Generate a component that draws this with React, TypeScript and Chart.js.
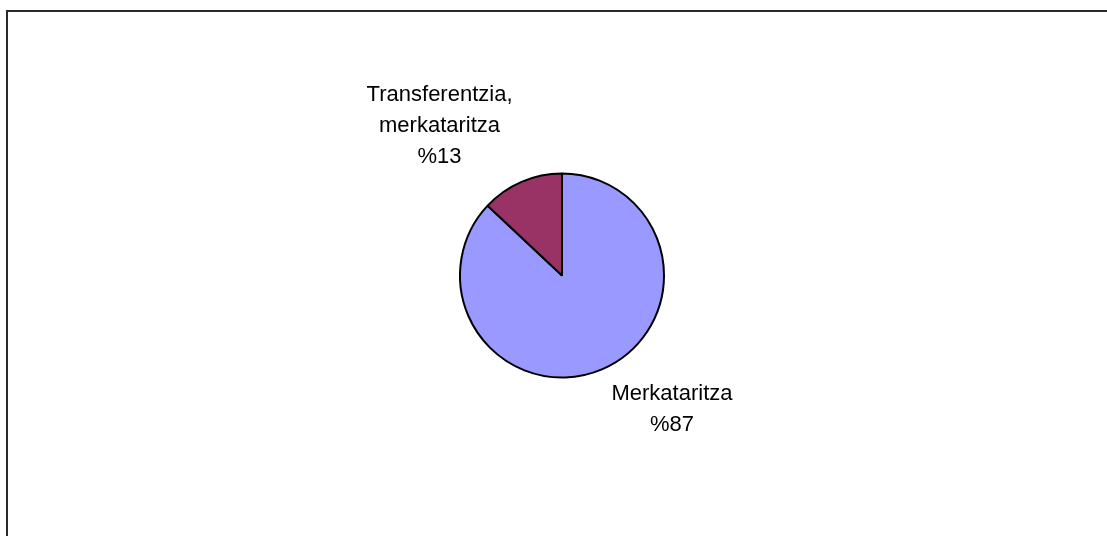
import React, { useEffect, useRef } from "react";
import { Chart, registerables } from "chart.js";

Chart.register(...registerables);

const categories = ["Merkataritza", "Transferentzia, merkataritza"];
const labelLines = [["Merkataritza"], ["Transferentzia,", "merkataritza"]];
const values = [87, 13];
const colors = ["#9999FF", "#993366"];

const FONT = '22px "Liberation Sans", Arial, sans-serif';
const LINE_H = 31;
const GAP = 10;
const PAD_X = 5;

const labelPlugin = {
  id: "outerLabels",
  afterDatasetsDraw(chart: any) {
    const ctx = chart.ctx;
    const meta = chart.getDatasetMeta(0);
    ctx.save();
    ctx.font = FONT;
    ctx.fillStyle = "#000";
    ctx.textAlign = "center";
    ctx.textBaseline = "middle";
    meta.data.forEach((arc: any, i: number) => {
      const p = arc.getProps(["x", "y", "startAngle", "endAngle", "outerRadius"], true);
      const mid = (p.startAngle + p.endAngle) / 2;
      const dx = Math.cos(mid);
      const dy = Math.sin(mid);
      const ax = p.x + dx * (p.outerRadius + GAP);
      const ay = p.y + dy * (p.outerRadius + GAP);
      const lines = [...labelLines[i], "%" + values[i]];
      const w = Math.max(...lines.map((l) => ctx.measureText(l).width)) + PAD_X * 2;
      const h = lines.length * LINE_H;
      const left = dx >= 0 ? ax : ax - w;
      const top = dy >= 0 ? ay : ay - h;
      lines.forEach((l, j) => {
        ctx.fillText(l, left + w / 2, top + LINE_H * (j + 0.5));
      });
    });
    ctx.restore();
  },
};

export default function App() {
  const ref = useRef<HTMLCanvasElement>(null);
  useEffect(() => {
    if (!ref.current) return;
    const chart = new Chart(ref.current, {
      type: "pie",
      data: {
        labels: categories,
        datasets: [
          {
            data: values,
            backgroundColor: colors,
            borderColor: "#000",
            borderWidth: 2,
          },
        ],
      },
      options: {
        responsive: false,
        animation: false,
        layout: { padding: { left: 459, right: 442, top: 172, bottom: 157 } },
        plugins: {
          legend: { display: false },
          tooltip: { enabled: false },
        },
      },
      plugins: [labelPlugin],
    });
    return () => chart.destroy();
  }, []);
  return (
    <div style={{ position: "fixed", left: 0, top: 0, width: 1107, height: 536, background: "#fff", overflow: "hidden" }}>
      <div
        style={{
          position: "absolute",
          left: 6,
          top: 10,
          width: 1200,
          height: 600,
          borderTop: "2px solid #2b2b2b",
          borderLeft: "2px solid #2b2b2b",
        }}
      />
      <canvas ref={ref} width={1107} height={536} style={{ position: "absolute", left: 0, top: 0 }} />
    </div>
  );
}
